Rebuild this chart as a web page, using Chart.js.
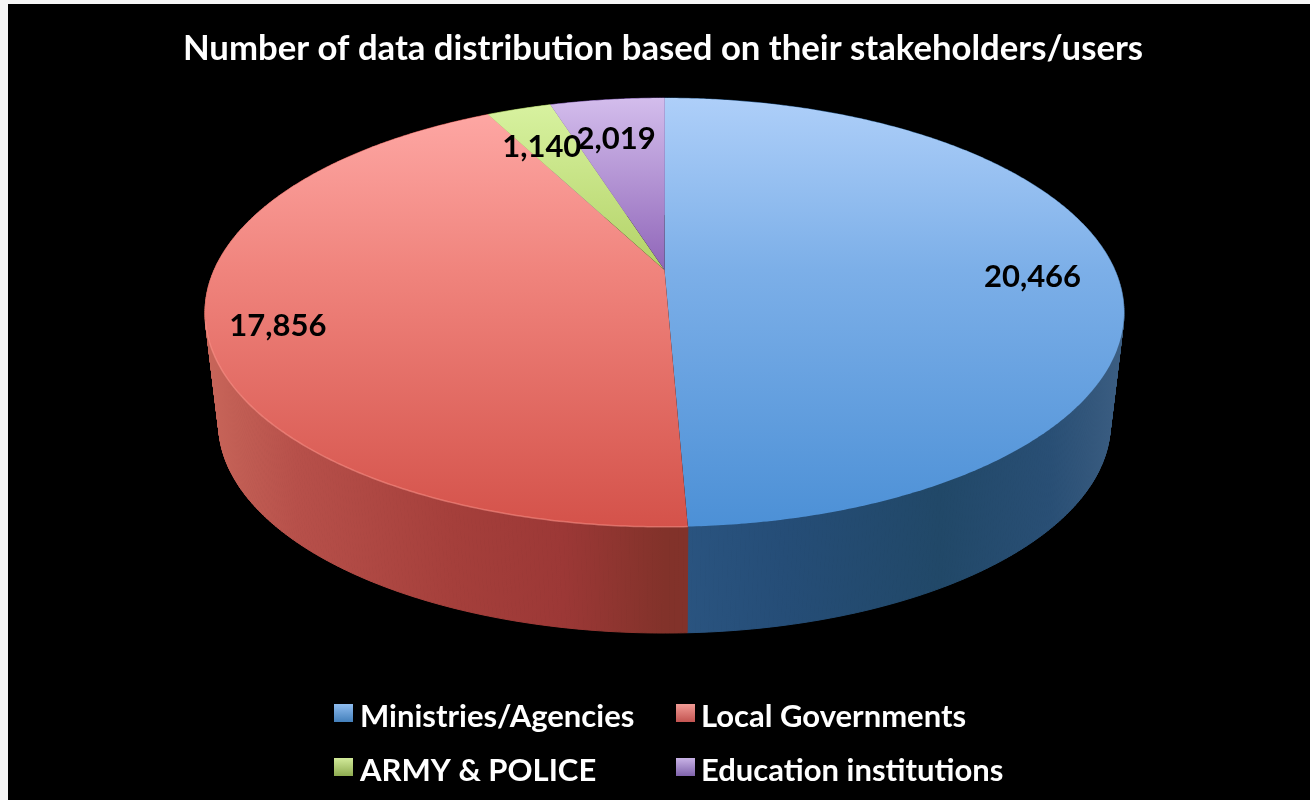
<!DOCTYPE html>
<html>
<head>
<meta charset="utf-8">
<title>Number of data distribution</title>
<script src="https://cdn.jsdelivr.net/npm/chart.js@4"></script>
<style>
	html, body { margin: 0; padding: 0; background: #f6f6f6; overflow: hidden; }
	#pieChart { position: absolute; left: 8px; top: 4px; background: #000; }
</style>
</head>
<body>
<canvas id="pieChart" width="1302" height="796"></canvas>
<script>
const chartTitle = "Number of data distribution based on their stakeholders/users";
const categories = ["Ministries/Agencies", "Local Governments", "ARMY & POLICE", "Education institutions"];
const stakeholderValues = [20466, 17856, 1140, 2019];

/*face shading of each slice: far rim, level of the centre, near rim*/
const faceFar = ["#aecff9", "#ffaaa7", "#d9f3a2", "#d3bdec"];
const faceMid = ["#7cafe8", "#f0847d", "#b3d267", "#9066b9"];
const faceNear = ["#4c90d6", "#d4524a", "#9bbb59", "#7a4fa3"];
const legendTop = ["#8fbdf0", "#f29b95", "#d2ea9a", "#c9b3e6"];
const legendBottom = ["#3f7cb8", "#c0504d", "#8aa84c", "#7b5ea8"];
const wallStops = [
	["#2a5480", "#254d77", "#214868", "#294f75", "#3c5e82"],
	["#c8665a", "#b7504a", "#a53f3b", "#9c3836", "#82322a"],
	["#8aa84c", "#8aa84c", "#8aa84c", "#8aa84c", "#8aa84c"],
	["#6a4a92", "#6a4a92", "#6a4a92", "#6a4a92", "#6a4a92"]
];

/*perspective of the disc, in page pixels*/
const canvasLeft = 8;
const canvasTop = 4;
const topDisc = { x: 664.5, y: 270, a: 450.4, b: 206, k: 0.198 };
const bottomDisc = { x: 664.5, y: 382.4, a: 437, b: 201, k: 0.198 };
/*how far out each value label sits, and its nudge down*/
const labelPlaces = [
	{ t: 0.82, dy: 10 },
	{ t: 0.85, dy: 9 },
	{ t: 0.82, dy: 13 },
	{ t: 0.82, dy: 13 }
];

function project(disc, theta, t) {
	const s = Math.sin(theta) * t;
	const c = Math.cos(theta) * t;
	const d = 1 + disc.k * c;
	return { x: disc.x + (disc.a * s) / d, y: disc.y - (disc.b * c) / d };
}

function rimPoints(disc, start, end) {
	const points = [];
	const steps = Math.max(2, Math.ceil((end - start) / 0.008));
	for (let i = 0; i <= steps; i++) {
		points.push(project(disc, start + ((end - start) * i) / steps, 1));
	}
	return points;
}

function tracePath(ctx, points) {
	ctx.beginPath();
	points.forEach((p, i) => (i === 0 ? ctx.moveTo(p.x, p.y) : ctx.lineTo(p.x, p.y)));
	ctx.closePath();
}

const perspectivePie = {
	id: "perspectivePie",
	beforeDatasetsDraw(chart) {
		const ctx = chart.ctx;
		/*the library works out the angles, this only projects them*/
		const slices = chart.getDatasetMeta(0).data.map((arc, i) => ({
			i,
			start: arc.startAngle + Math.PI / 2,
			end: arc.endAngle + Math.PI / 2
		}));
		ctx.save();
		ctx.translate(-canvasLeft, -canvasTop);

		slices.forEach(({ i, start, end }) => {
			const top = rimPoints(topDisc, start, end);
			const bottom = rimPoints(bottomDisc, start, end);
			const grad = ctx.createLinearGradient(205, 0, 1124, 0);
			const stops = wallStops[i];
			if (i === 0) {
				grad.addColorStop(0.52, stops[0]);
				grad.addColorStop(0.63, stops[1]);
				grad.addColorStop(0.8, stops[2]);
				grad.addColorStop(0.92, stops[3]);
				grad.addColorStop(1, stops[4]);
			} else {
				grad.addColorStop(0, stops[0]);
				grad.addColorStop(0.1, stops[1]);
				grad.addColorStop(0.27, stops[2]);
				grad.addColorStop(0.39, stops[3]);
				grad.addColorStop(0.5, stops[4]);
			}
			ctx.fillStyle = grad;
			ctx.strokeStyle = grad;
			ctx.lineWidth = 1;
			/*sweep the rim down in small strips so the outline runs straight between the discs*/
			for (let n = 0; n < top.length - 1; n++) {
				tracePath(ctx, [top[n], top[n + 1], bottom[n + 1], bottom[n]]);
				ctx.fill();
				ctx.stroke();
			}
		});

		slices.forEach(({ i, start, end }) => {
			const grad = ctx.createLinearGradient(0, 98, 0, 527);
			grad.addColorStop(0, faceFar[i]);
			grad.addColorStop(0.4, faceMid[i]);
			grad.addColorStop(1, faceNear[i]);
			const apex = project(topDisc, 0, 0);
			tracePath(ctx, [apex].concat(rimPoints(topDisc, start, end)));
			ctx.fillStyle = grad;
			ctx.fill();
		});

		/*thin light edge along the front of the red face*/
		const red = slices[1];
		const edge = rimPoints(topDisc, red.start, red.end).filter(p => p.y > 320);
		ctx.beginPath();
		edge.forEach((p, n) => (n === 0 ? ctx.moveTo(p.x, p.y) : ctx.lineTo(p.x, p.y)));
		ctx.strokeStyle = "rgba(255,150,140,0.55)";
		ctx.lineWidth = 1.5;
		ctx.stroke();

		/*value labels*/
		ctx.fillStyle = "#000";
		ctx.font = "bold 31px Lato";
		ctx.textAlign = "center";
		ctx.textBaseline = "middle";
		slices.forEach(({ i, start, end }) => {
			const p = project(topDisc, (start + end) / 2, labelPlaces[i].t);
			ctx.fillText(stakeholderValues[i].toLocaleString("en-US"), p.x, p.y + labelPlaces[i].dy);
		});
		ctx.restore();
		return false;
	},
	afterDraw(chart) {
		const ctx = chart.ctx;
		const items = chart.legend.legendItems;
		ctx.save();
		ctx.translate(-canvasLeft, -canvasTop);
		ctx.font = "bold 31px Lato";
		ctx.textAlign = "left";
		ctx.textBaseline = "middle";
		items.forEach((item, i) => {
			const col = i % 2;
			const row = Math.floor(i / 2);
			const boxX = col === 0 ? 334 : 676;
			const rowY = row === 0 ? 716 : 770;
			const grad = ctx.createLinearGradient(0, rowY - 12, 0, rowY + 7);
			grad.addColorStop(0, legendTop[i]);
			grad.addColorStop(1, legendBottom[i]);
			ctx.fillStyle = grad;
			ctx.fillRect(boxX, rowY - 12, 19, 18);
			ctx.fillStyle = "#fff";
			ctx.fillText(item.text, col === 0 ? 360 : 701, rowY + 1);
		});
		ctx.restore();
	}
};

const pieChart = new Chart(document.getElementById("pieChart"), {
	type: "pie",
	data: {
		labels: categories,
		datasets: [
			{
				data: stakeholderValues,
				backgroundColor: faceMid,
				borderWidth: 0
			}
		]
	},
	options: {
		responsive: false,
		animation: false,
		devicePixelRatio: 1,
		layout: { padding: { left: 8 } },
		plugins: {
			title: {
				display: true,
				text: chartTitle,
				color: "#fff",
				font: { family: "Lato", size: 34.7, weight: "bold" },
				padding: { top: 24, bottom: 10 }
			},
			legend: { display: false },
			tooltip: { enabled: false }
		}
	},
	plugins: [perspectivePie]
});
</script>
</body>
</html>
